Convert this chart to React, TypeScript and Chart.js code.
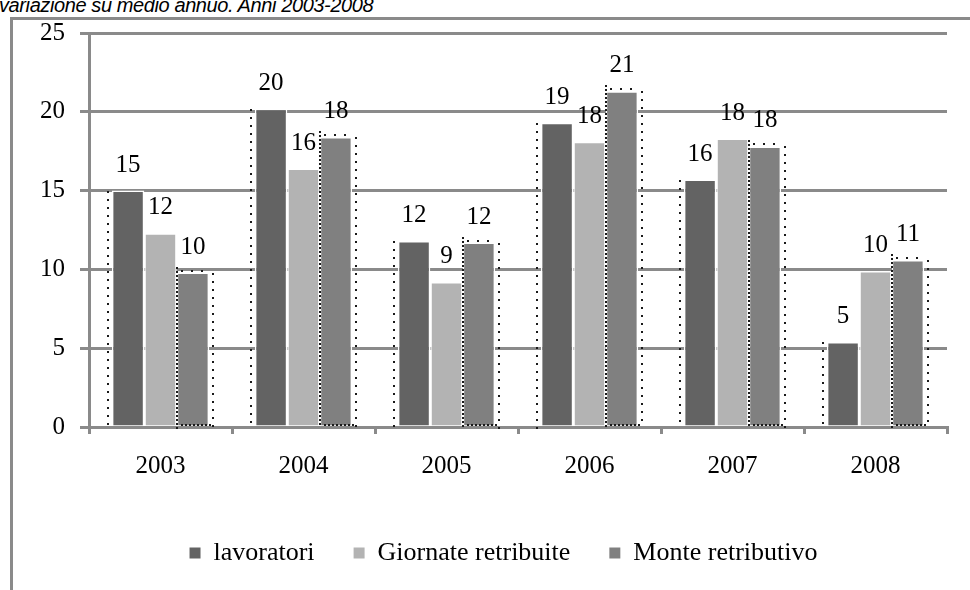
import React, { useEffect, useRef } from "react";
import { Chart, registerables } from "chart.js";

Chart.register(...registerables);

const titleText = "variazione su medio annuo. Anni 2003-2008";
const categories = ["2003", "2004", "2005", "2006", "2007", "2008"];
const seriesNames = ["lavoratori", "Giornate retribuite", "Monte retributivo"];
const lavoratori = [15.0, 20.2, 11.8, 19.3, 15.7, 5.4];
const giornate = [12.3, 16.4, 9.2, 18.1, 18.3, 9.9];
const monte = [9.8, 18.4, 11.7, 21.3, 17.8, 10.6];
const yTicks = [0, 5, 10, 15, 20, 25];
const seriesColors = ["#636363", "#b3b3b3", "#808080"];

const GRID = "#8a8a8a";
const SERIF = '"Liberation Serif", "Times New Roman", serif';

const dottedPlugin = {
  id: "dottedOutline",
  afterDatasetsDraw(chart: any) {
    const ctx = chart.ctx;
    const m0 = chart.getDatasetMeta(0);
    const m2 = chart.getDatasetMeta(2);
    const bottom = chart.scales.y.getPixelForValue(0);
    ctx.save();
    ctx.fillStyle = "#1a1a1a";
    const vline = (x: number, y0: number, y1: number, step: number) => {
      for (let y = y0; y < y1; y += step) ctx.fillRect(Math.round(x), Math.round(y), 2, 2);
    };
    const hline = (x0: number, x1: number, y: number, step: number) => {
      for (let x = x0; x < x1; x += step) ctx.fillRect(Math.round(x), Math.round(y), 2, 2);
    };
    m0.data.forEach((b: any, i: number) => {
      const l0 = b.x - b.width / 2;
      vline(l0 - 5, b.y, bottom, 8);
      const b2 = m2.data[i];
      const l2 = b2.x - b2.width / 2;
      const r2 = b2.x + b2.width / 2;
      vline(l2 - 1, b2.y - 6, bottom, 4);
      vline(r2 + 3, b2.y, bottom, 8);
      hline(l2 + 4, r2, b2.y - 3, 10);
      hline(l2 + 4, r2, bottom - 3, 4);
    });
    ctx.restore();
  },
};

const labelPlugin = {
  id: "valueLabels",
  afterDatasetsDraw(chart: any) {
    const ctx = chart.ctx;
    ctx.save();
    ctx.font = `25px ${SERIF}`;
    ctx.fillStyle = "#000";
    ctx.textAlign = "center";
    ctx.textBaseline = "alphabetic";
    chart.data.datasets.forEach((ds: any, di: number) => {
      const meta = chart.getDatasetMeta(di);
      meta.data.forEach((bar: any, i: number) => {
        ctx.fillText(String(Math.round(ds.data[i])), bar.x, bar.y - 19);
      });
    });
    ctx.restore();
  },
};

const legendShiftPlugin = {
  id: "legendShift",
  afterLayout(chart: any) {
    if (chart.legend) {
      chart.legend.left += 30;
      chart.legend.right += 30;
    }
  },
};

export default function App() {
  const ref = useRef<HTMLCanvasElement>(null);

  useEffect(() => {
    if (!ref.current) return;
    const data = [lavoratori, giornate, monte];
    const chart = new Chart(ref.current, {
      type: "bar",
      data: {
        labels: categories,
        datasets: seriesNames.map((name, i) => ({
          label: name,
          data: data[i],
          backgroundColor: seriesColors[i],
          borderColor: "#ffffff",
          borderWidth: 1.5,
          categoryPercentage: 0.68,
          barPercentage: 1.0,
        })),
      },
      options: {
        responsive: false,
        animation: false,
        devicePixelRatio: 1,
        layout: { padding: { left: 0, right: 23, top: 33, bottom: 14 } },
        plugins: {
          title: { display: false },
          tooltip: { enabled: false },
          legend: {
            display: true,
            position: "bottom",
            labels: {
              font: { family: SERIF, size: 26 },
              color: "#000",
              boxWidth: 11,
              boxHeight: 11,
              padding: 39,
              generateLabels: (c: any) =>
                c.data.datasets.map((ds: any, i: number) => ({
                  text: ds.label,
                  fillStyle: seriesColors[i],
                  strokeStyle: seriesColors[i],
                  lineWidth: 0,
                  hidden: false,
                  datasetIndex: i,
                  fontColor: "#000",
                })),
            },
          },
        },
        scales: {
          x: {
            afterFit: (s: any) => {
              s.height = 74;
            },
            border: { display: true, color: GRID, width: 3 },
            grid: {
              display: true,
              drawOnChartArea: false,
              drawTicks: true,
              tickLength: 7,
              color: GRID,
              lineWidth: 3,
              offset: true,
            },
            ticks: {
              font: { family: SERIF, size: 25 },
              color: "#000",
              padding: 17,
              maxRotation: 0,
            },
          },
          y: {
            min: 0,
            max: 25,
            afterFit: (s: any) => {
              s.width = 89;
            },
            afterBuildTicks: (s: any) => {
              s.ticks = yTicks.map((v) => ({ value: v }));
            },
            border: { display: true, color: GRID, width: 3 },
            grid: {
              color: GRID,
              lineWidth: 3,
              drawTicks: true,
              tickLength: 9,
            },
            ticks: {
              font: { family: SERIF, size: 25 },
              color: "#000",
              padding: 15,
            },
          },
        },
      },
      plugins: [dottedPlugin, labelPlugin, legendShiftPlugin],
    });
    return () => chart.destroy();
  }, []);

  return (
    <div
      style={{
        position: "fixed",
        left: 0,
        top: 0,
        width: 970,
        height: 590,
        overflow: "hidden",
        background: "#fff",
      }}
    >
      <div
        style={{
          position: "absolute",
          left: -1,
          top: -6,
          font: 'italic 20px "Liberation Sans", Arial, sans-serif',
          letterSpacing: "-0.4px",
          whiteSpace: "nowrap",
          color: "#000",
        }}
      >
        {titleText}
      </div>
      <div
        style={{
          position: "absolute",
          left: 10,
          top: 17,
          width: 1000,
          height: 1000,
          border: `3px solid ${GRID}`,
        }}
      />
      <canvas
        ref={ref}
        width={970}
        height={590}
        style={{ position: "absolute", left: 0, top: 0, width: 970, height: 590 }}
      />
    </div>
  );
}
